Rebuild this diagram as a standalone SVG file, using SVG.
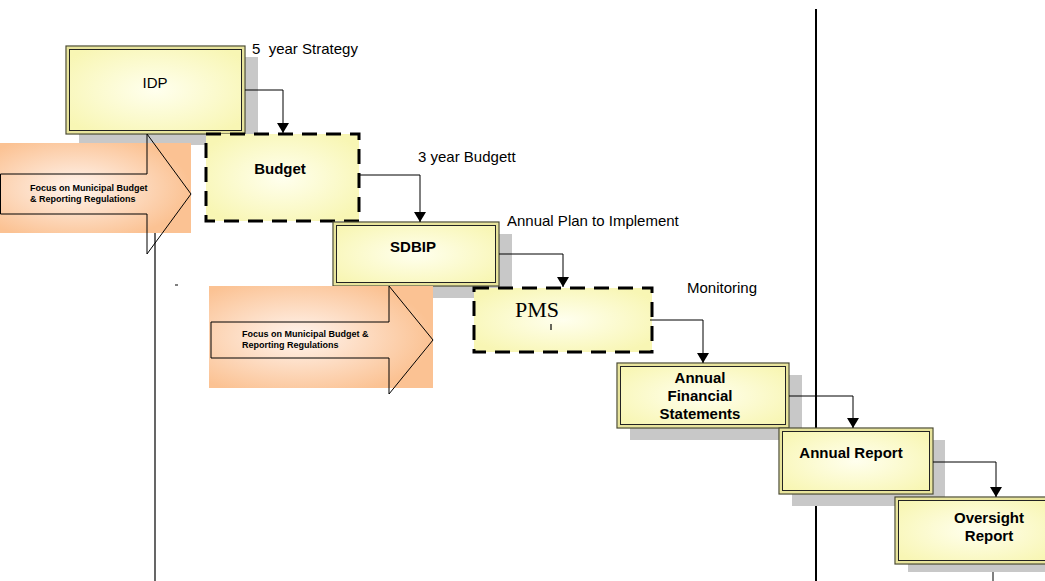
<svg xmlns="http://www.w3.org/2000/svg" width="1045" height="581" viewBox="0 0 1045 581">
<defs>
<radialGradient id="yel" cx="50%" cy="50%" r="60%">
<stop offset="0" stop-color="#ffffee"/>
<stop offset="1" stop-color="#f8f6b4"/>
</radialGradient>
<radialGradient id="org" cx="40%" cy="50%" r="60%">
<stop offset="0" stop-color="#fff4ee"/>
<stop offset="1" stop-color="#fbc293"/>
</radialGradient>
<marker id="ah" viewBox="0 0 10 12" refX="10" refY="6" markerWidth="10" markerHeight="12" markerUnits="userSpaceOnUse" orient="auto">
<path d="M0,0 L10,6 L0,12 Z" fill="#000"/>
</marker>
</defs>
<style>
.sh{fill:#c8c8c8}
.bo{fill:url(#yel);stroke:#4a4a30;stroke-width:1.2}
.bi{fill:none;stroke:#222;stroke-width:1}
.gap{fill:none;stroke:#e8e49c;stroke-width:2}
.dash{fill:url(#yel);stroke:#000;stroke-width:3;stroke-dasharray:15 9}
.t{font-family:"Liberation Sans",Arial,sans-serif;fill:#000}
.b{font-family:"Liberation Sans",Arial,sans-serif;font-weight:bold;font-size:15px;fill:#000}
.f{font-family:"Liberation Sans",Arial,sans-serif;font-weight:bold;font-size:9px;fill:#000}
.con{fill:none;stroke:#000;stroke-width:1}
.ar{fill:none;stroke:#000;stroke-width:1}
</style>

<!-- background lines -->
<line x1="155" y1="134" x2="155" y2="581" stroke="#000" stroke-width="1.2"/>
<line x1="816" y1="9" x2="816" y2="581" stroke="#000" stroke-width="2"/>
<line x1="175" y1="285" x2="178" y2="285" stroke="#000" stroke-width="1"/>

<g id="idp">
<rect class="sh" x="79" y="57" width="179" height="88"/>
<rect class="bo" x="66" y="46" width="179" height="88"/>
<rect class="gap" x="68" y="48" width="175" height="84"/>
<rect class="bi" x="69.5" y="49.5" width="172" height="81"/>
<text class="t" x="155" y="88" font-size="15" text-anchor="middle">IDP</text>
</g>

<g id="focus1">
<rect x="0" y="143" width="191" height="90" fill="url(#org)"/>
<path class="ar" d="M0.5,174 L147,174 L147,134 L191,194 L147,254 L147,214 L0.5,214 Z"/>
<text class="f" x="30" y="191">Focus on Municipal Budget</text>
<text class="f" x="30" y="202">&amp; Reporting Regulations</text>
</g>

<g id="budget">
<rect class="dash" x="206" y="134" width="153" height="87"/>
<text class="b" x="280" y="174" text-anchor="middle">Budget</text>
</g>

<g id="sdbip">
<rect class="sh" x="346" y="234" width="166" height="64"/>
<rect class="bo" x="333" y="222" width="166" height="64"/>
<rect class="gap" x="335" y="224" width="162" height="60"/>
<rect class="bi" x="336.5" y="225.5" width="159" height="57"/>
<text class="b" x="413" y="252" text-anchor="middle">SDBIP</text>
</g>

<g id="focus2">
<rect x="209" y="286" width="224" height="102" fill="url(#org)"/>
<path class="ar" d="M211,322 L389,322 L389,286 L433,340 L389,394 L389,358 L211,358 Z"/>
<text class="f" x="242" y="337">Focus on Municipal Budget &amp;</text>
<text class="f" x="242" y="348">Reporting Regulations</text>
</g>

<g id="pms">
<rect class="dash" x="474" y="288" width="178" height="64"/>
<text x="515" y="317" font-family="Liberation Serif,Times New Roman,serif" font-size="22" fill="#000">PMS</text>
<line x1="551" y1="324" x2="551" y2="330" stroke="#000" stroke-width="1.2"/>
</g>

<g id="afs">
<rect class="sh" x="630" y="375" width="172" height="65"/>
<rect class="bo" x="617" y="363" width="172" height="65"/>
<rect class="gap" x="619" y="365" width="168" height="61"/>
<rect class="bi" x="620.5" y="366.5" width="165" height="58"/>
<text class="b" x="700" y="383" text-anchor="middle">Annual</text>
<text class="b" x="700" y="401" text-anchor="middle">Financial</text>
<text class="b" x="700" y="419" text-anchor="middle">Statements</text>
</g>

<g id="annual-report">
<rect class="sh" x="792" y="440" width="153" height="66"/>
<rect class="bo" x="779" y="428" width="154" height="66"/>
<rect class="gap" x="781" y="430" width="150" height="62"/>
<rect class="bi" x="782.5" y="431.5" width="147" height="59"/>
<text class="b" x="851" y="458" text-anchor="middle">Annual Report</text>
</g>

<g id="oversight">
<rect class="sh" x="908" y="509" width="150" height="63"/>
<rect class="bo" x="895" y="497" width="160" height="67"/>
<rect class="gap" x="897" y="499" width="156" height="63"/>
<rect class="bi" x="898.5" y="500.5" width="153" height="60"/>
<text class="b" x="989" y="523" text-anchor="middle">Oversight</text>
<text class="b" x="989" y="541" text-anchor="middle">Report</text>
</g>

<g id="connectors">
<path class="con" d="M245,90 H283 V133" marker-end="url(#ah)"/>
<path class="con" d="M360,175 H420 V222" marker-end="url(#ah)"/>
<path class="con" d="M499,254 H563 V287" marker-end="url(#ah)"/>
<path class="con" d="M650,320 H703 V363" marker-end="url(#ah)"/>
<path class="con" d="M789,396 H853 V428" marker-end="url(#ah)"/>
<path class="con" d="M933,462 H996 V497" marker-end="url(#ah)"/>
<line x1="993" y1="572" x2="993" y2="581" stroke="#000" stroke-width="1"/>
</g>

<g id="labels">
<text class="t" x="252" y="54" font-size="15" xml:space="preserve" style="white-space:pre">5  year Strategy</text>
<text class="t" x="418" y="162" font-size="15">3 year Budgett</text>
<text class="t" x="507" y="226" font-size="15">Annual Plan to Implement</text>
<text class="t" x="687" y="293" font-size="15">Monitoring</text>
</g>
</svg>
